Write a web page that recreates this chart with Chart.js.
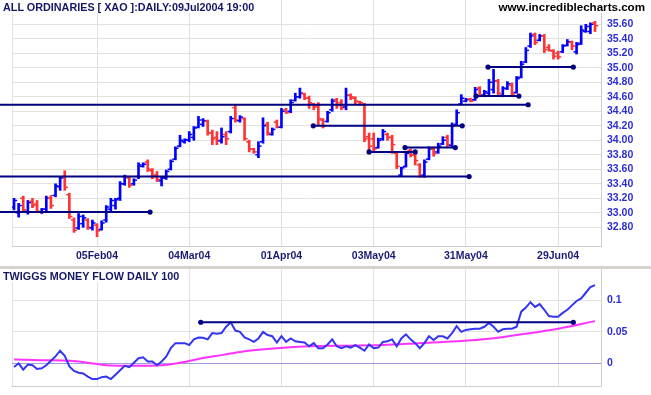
<!DOCTYPE html>
<html>
<head>
<meta charset="utf-8">
<script src="https://cdn.jsdelivr.net/npm/chart.js@4.4.1/dist/chart.umd.min.js"></script>
<style>
  html, body { margin: 0; padding: 0; background: #fff; }
  #wrap { position: relative; width: 651px; height: 395px; overflow: hidden; font-family: "Liberation Sans", Arial, sans-serif; }
  #price { position: absolute; left: 0; top: 0; }
  #flow { position: absolute; left: 0; top: 269px; }
  .sep { position: absolute; left: 0; top: 266px; width: 651px; height: 3px; background: #d6d3ce; }
  .txt { position: absolute; font-weight: bold; white-space: nowrap; background: #fff; line-height: 12px; }
</style>
</head>
<body>
<div id="wrap">
  <canvas id="price" width="651" height="266"></canvas>
  <div class="sep"></div>
  <canvas id="flow" width="651" height="126"></canvas>
  <div class="txt" style="left:3px; top:1px; font-size:10.8px; color:#161666;">ALL ORDINARIES [ XAO ]:DAILY:09Jul2004 19:00</div>
  <div class="txt" style="right:6px; top:1px; font-size:11.6px; color:#000;">www.incrediblecharts.com</div>
  <div class="txt" style="left:3px; top:270px; font-size:10.8px; color:#161666;">TWIGGS MONEY FLOW DAILY 100</div>
</div>
<script>
// === DATA ===
const dateTickIdx = [18, 38, 58, 78, 98, 118];
const dateTickLabels = ["05Feb04", "04Mar04", "01Apr04", "03May04", "31May04", "29Jun04"];
const priceTicks = [32.8, 33.0, 33.2, 33.4, 33.6, 33.8, 34.0, 34.2, 34.4, 34.6, 34.8, 35.0, 35.2, 35.4, 35.6];
const flowTicks = [0, 0.05, 0.1];
const flowTickLabels = ["0", "0.05", "0.1"];

const priceOpen = [
  33.08,33.00,33.20,33.02,33.16,33.12,33.01,33.05,33.20,33.24,
  33.36,33.50,33.25,32.90,32.79,32.85,32.90,32.79,32.83,32.77,
  32.90,33.05,33.10,33.20,33.40,33.48,33.40,33.50,33.64,33.70,
  33.58,33.52,33.44,33.48,33.60,33.74,33.92,33.98,34.00,34.04,
  34.18,34.22,34.26,34.10,34.04,33.99,34.08,34.12,34.45,34.27,
  34.30,33.98,33.88,33.80,33.98,34.22,34.08,34.25,34.18,34.42,
  34.40,34.55,34.60,34.64,34.58,34.50,34.48,34.28,34.26,34.42,
  34.56,34.52,34.46,34.62,34.58,34.53,34.50,34.05,34.02,33.90,
  34.02,34.08,34.04,33.82,33.52,33.64,33.86,33.80,33.66,33.52,
  33.74,33.88,33.84,33.95,34.04,33.93,34.22,34.50,34.54,34.57,
  34.56,34.72,34.62,34.65,34.70,34.82,34.62,34.71,34.76,34.66,
  34.87,35.08,35.30,35.46,35.38,35.44,35.28,35.23,35.20,35.22,
  35.31,35.35,35.22,35.34,35.50,35.50,35.62];
const priceHigh = [
  33.20,33.13,33.23,33.17,33.20,33.17,33.06,33.23,33.24,33.40,
  33.50,33.58,33.27,32.93,32.99,32.97,32.92,32.90,32.85,32.89,
  33.10,33.20,33.20,33.43,33.52,33.50,33.47,33.69,33.69,33.73,
  33.61,33.57,33.50,33.59,33.73,33.91,34.07,34.02,34.12,34.19,
  34.33,34.30,34.28,34.14,34.12,34.17,34.12,34.33,34.49,34.34,
  34.31,34.00,33.89,33.98,34.31,34.25,34.17,34.28,34.44,34.44,
  34.56,34.65,34.72,34.65,34.61,34.51,34.52,34.30,34.40,34.57,
  34.58,34.56,34.72,34.64,34.60,34.54,34.51,34.10,34.10,34.03,
  34.15,34.10,34.07,33.84,33.63,33.84,33.88,33.82,33.68,33.73,
  33.91,33.91,33.96,34.05,34.07,34.24,34.42,34.63,34.58,34.58,
  34.73,34.74,34.69,34.84,34.98,34.84,34.74,34.81,34.79,34.88,
  35.09,35.28,35.48,35.48,35.46,35.46,35.32,35.25,35.23,35.32,
  35.39,35.37,35.35,35.58,35.60,35.62,35.64];
const priceLow = [
  33.04,32.94,33.01,32.98,33.07,33.00,32.99,33.01,33.06,33.22,
  33.31,33.31,32.92,32.73,32.77,32.80,32.77,32.76,32.67,32.76,
  32.87,33.01,33.05,33.17,33.38,33.35,33.38,33.47,33.63,33.57,
  33.47,33.43,33.37,33.46,33.59,33.73,33.91,33.96,33.98,34.00,
  34.17,34.19,34.07,33.94,33.94,33.96,33.94,34.10,34.25,34.25,
  34.00,33.84,33.82,33.76,33.96,34.07,34.07,34.17,34.17,34.37,
  34.38,34.54,34.58,34.56,34.44,34.42,34.21,34.17,34.25,34.40,
  34.44,34.42,34.42,34.56,34.49,34.48,33.98,33.84,33.84,33.89,
  34.00,34.00,33.82,33.61,33.50,33.63,33.77,33.66,33.49,33.49,
  33.73,33.78,33.82,33.94,33.91,33.91,34.21,34.49,34.53,34.53,
  34.55,34.60,34.60,34.63,34.65,34.63,34.60,34.70,34.61,34.65,
  34.86,35.07,35.28,35.32,35.37,35.21,35.23,35.12,35.12,35.21,
  35.30,35.25,35.19,35.32,35.49,35.47,35.50];
const priceClose = [
  33.17,33.10,33.04,33.14,33.10,33.02,33.05,33.20,33.10,33.37,
  33.48,33.35,32.95,32.76,32.95,32.93,32.80,32.86,32.75,32.86,
  33.08,33.17,33.18,33.40,33.50,33.38,33.45,33.66,33.67,33.60,
  33.50,33.46,33.48,33.57,33.71,33.89,34.00,34.01,34.08,34.17,
  34.28,34.27,34.10,34.02,34.00,34.05,34.02,34.30,34.28,34.32,
  34.02,33.88,33.84,33.92,34.20,34.10,34.15,34.18,34.40,34.38,
  34.52,34.60,34.65,34.58,34.52,34.46,34.30,34.20,34.38,34.54,
  34.48,34.45,34.62,34.60,34.54,34.52,34.02,33.92,33.88,34.00,
  34.12,34.04,33.94,33.64,33.62,33.82,33.80,33.72,33.50,33.70,
  33.88,33.82,33.92,34.00,33.94,34.20,34.38,34.58,34.56,34.54,
  34.70,34.63,34.67,34.80,34.82,34.65,34.72,34.78,34.64,34.85,
  35.05,35.24,35.44,35.35,35.44,35.25,35.24,35.16,35.15,35.30,
  35.36,35.30,35.32,35.52,35.57,35.60,35.58];

// hand-drawn horizontal lines on the price panel (bar index from/to)
const priceLineLevel = [34.49, 33.50, 33.01, 34.20, 33.84, 33.90, 34.61, 35.01];
const priceLineFrom  = [-3.2, -3.2, -3.2, 64.9, 77.0, 84.8, 100.2, 102.8];
const priceLineTo    = [111.5, 98.7, 29.5, 97.2, 87.0, 95.7, 109.5, 121.3];
const priceLineDotFrom = [false, false, false, true, true, true, true, true];

const flowLine = [
  -0.006,0.000,-0.010,-0.002,-0.003,-0.009,-0.008,-0.003,0.004,0.011,
  0.020,0.012,-0.005,-0.012,-0.015,-0.016,-0.021,-0.025,-0.025,-0.022,
  -0.021,-0.025,-0.018,-0.011,-0.004,-0.006,0.001,0.008,0.0095,0.003,
  0.003,-0.003,0.003,0.0105,0.024,0.032,0.032,0.032,0.029,0.038,
  0.041,0.0405,0.038,0.048,0.047,0.048,0.058,0.065,0.052,0.050,
  0.041,0.038,0.034,0.0395,0.050,0.045,0.043,0.033,0.043,0.034,
  0.0395,0.035,0.034,0.033,0.027,0.032,0.024,0.024,0.030,0.038,
  0.027,0.024,0.027,0.025,0.029,0.025,0.020,0.030,0.024,0.025,
  0.034,0.035,0.038,0.027,0.0395,0.046,0.038,0.032,0.024,0.032,
  0.043,0.037,0.043,0.043,0.0395,0.048,0.059,0.050,0.053,0.054,
  0.055,0.055,0.058,0.064,0.058,0.050,0.054,0.055,0.055,0.058,
  0.082,0.0885,0.097,0.0895,0.094,0.085,0.075,0.074,0.074,0.080,
  0.085,0.092,0.099,0.103,0.112,0.121,0.124];
const flowAvgIdx = [0, 6, 12, 16, 20, 26, 32, 36, 40, 45, 50, 57, 64, 72, 80, 88, 96, 103, 110, 118, 126];
const flowAvgVal = [0.006, 0.005, 0.004, 0.001, -0.003, -0.004, -0.003, 0.001, 0.007, 0.013, 0.019, 0.024, 0.027, 0.028, 0.029, 0.032, 0.035, 0.039, 0.046, 0.055, 0.067];
const flowLineLevel = 0.0652;
const flowLineFrom = 40.5;
const flowLineTo = 121.3;

// === STYLE ===
const FONT = '"Liberation Sans", Arial, sans-serif';
const NAVY = '#000080';
const UP = '#0000ff';
const DOWN = '#ff3333';
const GRID = '#e1e1e1';
const EDGE = '#cccccc';
const X_MIN = -0.44, X_MAX = 127.3;

const barColors = priceClose.map((c, i) => c >= priceOpen[i] ? UP : DOWN);

function hLine(level, from, to, dotFrom) {
  return {
    type: 'line',
    data: [{ x: from, y: level }, { x: to, y: level }],
    borderColor: NAVY,
    borderWidth: 2,
    pointRadius: [dotFrom ? 2.6 : 0, 2.6],
    pointBackgroundColor: NAVY,
    pointBorderWidth: 0,
    clip: { left: 14, top: 0, right: 0, bottom: 0 },
    order: 0
  };
}

// no extra room for half labels: plot area edges are fixed by the layout
function noPad(s) {
  s.paddingTop = 0; s.paddingBottom = 0; s.paddingLeft = 0; s.paddingRight = 0;
}

function xScale(showLabels, height) {
  return {
    type: 'linear', min: X_MIN, max: X_MAX, offset: false,
    grid: { color: GRID, drawTicks: false, offset: false },
    border: { display: true, color: EDGE },
    afterBuildTicks: s => { s.ticks = [X_MIN, ...dateTickIdx].map(v => ({ value: v })); },
    afterFit: s => { s.height = height; noPad(s); },
    ticks: {
      display: showLabels, autoSkip: false, maxRotation: 0, padding: 4,
      color: '#1c1c74', font: { family: FONT, size: 10.5, weight: 'bold' },
      callback: v => { const k = dateTickIdx.indexOf(v); return k < 0 ? '' : dateTickLabels[k]; }
    }
  };
}

// === PRICE PANEL ===
new Chart(document.getElementById('price'), {
  type: 'bar',
  data: {
    datasets: [
      ...priceLineLevel.map((lv, k) => hLine(lv, priceLineFrom[k], priceLineTo[k], priceLineDotFrom[k])),
      {
        type: 'line', showLine: false, order: 1,
        data: priceOpen.map((o, i) => ({ x: i - 0.35, y: o })),
        pointStyle: 'line', pointRadius: 1.5, pointBorderWidth: 1.5, pointBorderColor: barColors
      },
      {
        type: 'line', showLine: false, order: 1,
        data: priceClose.map((c, i) => ({ x: i + 0.35, y: c })),
        pointStyle: 'line', pointRadius: 1.5, pointBorderWidth: 1.5, pointBorderColor: barColors
      },
      {
        type: 'bar', order: 2, barThickness: 2, grouped: false,
        data: priceHigh.map((h, i) => ({ x: i, y: [priceLow[i], h] })),
        backgroundColor: barColors
      }
    ]
  },
  options: {
    responsive: false, animation: false, events: [],
    layout: { autoPadding: false, padding: { left: 12, top: 0, right: 0, bottom: 0 } },
    plugins: { legend: { display: false }, tooltip: { enabled: false } },
    scales: {
      x: xScale(true, 20),
      y: {
        position: 'right', min: 32.542, max: 35.935,
        grid: { color: GRID, drawTicks: false },
        border: { display: true, color: EDGE },
        afterBuildTicks: s => { s.ticks = priceTicks.map(v => ({ value: v })); },
        afterFit: s => { s.width = 50; noPad(s); },
        ticks: {
          padding: 6, color: '#2d2dd8', font: { family: FONT, size: 10.5, weight: 'bold' },
          callback: v => v.toFixed(2)
        }
      }
    }
  }
});

// === MONEY FLOW PANEL ===
new Chart(document.getElementById('flow'), {
  type: 'line',
  data: {
    datasets: [
      Object.assign(hLine(flowLineLevel, flowLineFrom, flowLineTo, true), { order: 0 }),
      {
        order: 1, data: flowLine.map((v, i) => ({ x: i, y: v })),
        borderColor: '#3434f4', borderWidth: 2, pointRadius: 0, tension: 0
      },
      {
        order: 2, data: flowAvgIdx.map((x, k) => ({ x: x, y: flowAvgVal[k] })),
        borderColor: '#ff33ff', borderWidth: 2, pointRadius: 0, cubicInterpolationMode: 'monotone'
      }
    ]
  },
  options: {
    responsive: false, animation: false, events: [],
    layout: { autoPadding: false, padding: { left: 12, top: 0, right: 0, bottom: 0 } },
    plugins: { legend: { display: false }, tooltip: { enabled: false } },
    scales: {
      x: xScale(false, 9),
      y: {
        position: 'right', min: -0.036, max: 0.1497,
        grid: { color: c => (c.tick && c.tick.value === 0) ? '#a29cdc' : GRID, drawTicks: false },
        border: { display: true, color: EDGE },
        afterBuildTicks: s => { s.ticks = flowTicks.map(v => ({ value: v })); },
        afterFit: s => { s.width = 50; noPad(s); },
        ticks: {
          padding: 6, color: '#2d2dd8', font: { family: FONT, size: 10.5, weight: 'bold' },
          callback: v => { const k = flowTicks.indexOf(v); return k < 0 ? '' : flowTickLabels[k]; }
        }
      }
    }
  }
});
</script>
</body>
</html>
